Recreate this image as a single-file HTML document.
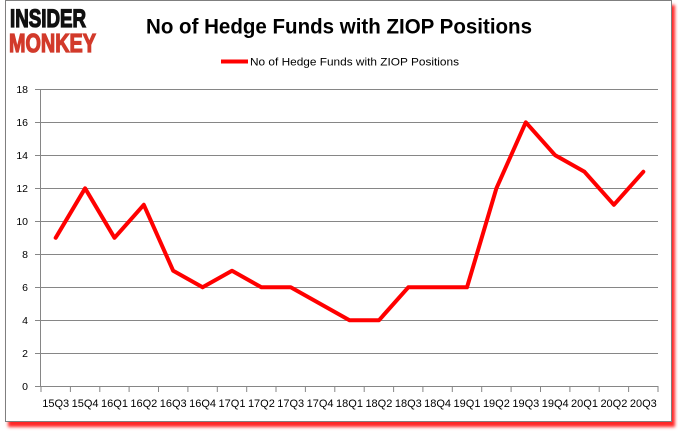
<!DOCTYPE html>
<html><head><meta charset="utf-8"><style>
html,body{margin:0;padding:0;background:#fff;}
body{width:678px;height:431px;position:relative;overflow:hidden;}
.frame{position:absolute;left:5px;top:0px;width:665px;height:420px;border:1px solid #7f7f7f;background:#fff;box-shadow:3px 5px 3px rgba(255,0,0,0.85);}
svg{position:absolute;left:0;top:0;}
</style></head><body>
<div class="frame"></div>
<svg width="678" height="431" viewBox="0 0 678 431" xmlns="http://www.w3.org/2000/svg">
<g font-family="Liberation Sans, sans-serif">
<text x="10" y="27" font-size="25" font-weight="bold" fill="#111" stroke="#111" stroke-width="1.3" textLength="76" lengthAdjust="spacingAndGlyphs">INSIDER</text>
<text x="9" y="52" font-size="26" font-weight="bold" fill="#d23a2b" stroke="#d23a2b" stroke-width="1.3" textLength="87" lengthAdjust="spacingAndGlyphs">MONKEY</text>
<text x="146" y="33.5" font-size="21" font-weight="bold" fill="#000" textLength="386" lengthAdjust="spacingAndGlyphs">No of Hedge Funds with ZIOP Positions</text>
<line x1="221" y1="61.5" x2="248" y2="61.5" stroke="#ff0000" stroke-width="4"/>
<text x="250" y="65.5" font-size="11" fill="#000" textLength="209" lengthAdjust="spacingAndGlyphs">No of Hedge Funds with ZIOP Positions</text>
</g>
<g stroke="#868686" stroke-width="1">
<line x1="35" y1="89.5" x2="658" y2="89.5"/>
<line x1="35" y1="122.5" x2="658" y2="122.5"/>
<line x1="35" y1="155.5" x2="658" y2="155.5"/>
<line x1="35" y1="188.5" x2="658" y2="188.5"/>
<line x1="35" y1="221.5" x2="658" y2="221.5"/>
<line x1="35" y1="254.5" x2="658" y2="254.5"/>
<line x1="35" y1="287.5" x2="658" y2="287.5"/>
<line x1="35" y1="320.5" x2="658" y2="320.5"/>
<line x1="35" y1="353.5" x2="658" y2="353.5"/>
<line x1="35" y1="386.5" x2="658" y2="386.5"/>
<line x1="40.5" y1="89" x2="40.5" y2="387"/>
<line x1="41" y1="386" x2="41" y2="392"/>
<line x1="70.4" y1="386" x2="70.4" y2="392"/>
<line x1="99.8" y1="386" x2="99.8" y2="392"/>
<line x1="129.1" y1="386" x2="129.1" y2="392"/>
<line x1="158.5" y1="386" x2="158.5" y2="392"/>
<line x1="187.9" y1="386" x2="187.9" y2="392"/>
<line x1="217.3" y1="386" x2="217.3" y2="392"/>
<line x1="246.7" y1="386" x2="246.7" y2="392"/>
<line x1="276" y1="386" x2="276" y2="392"/>
<line x1="305.4" y1="386" x2="305.4" y2="392"/>
<line x1="334.8" y1="386" x2="334.8" y2="392"/>
<line x1="364.2" y1="386" x2="364.2" y2="392"/>
<line x1="393.6" y1="386" x2="393.6" y2="392"/>
<line x1="422.9" y1="386" x2="422.9" y2="392"/>
<line x1="452.3" y1="386" x2="452.3" y2="392"/>
<line x1="481.7" y1="386" x2="481.7" y2="392"/>
<line x1="511.1" y1="386" x2="511.1" y2="392"/>
<line x1="540.5" y1="386" x2="540.5" y2="392"/>
<line x1="569.9" y1="386" x2="569.9" y2="392"/>
<line x1="599.2" y1="386" x2="599.2" y2="392"/>
<line x1="628.6" y1="386" x2="628.6" y2="392"/>
<line x1="658" y1="386" x2="658" y2="392"/>
</g>
<g font-family="Liberation Sans, sans-serif" font-size="10.5" fill="#000" text-anchor="end">
<text x="28" y="93">18</text>
<text x="28" y="126">16</text>
<text x="28" y="159">14</text>
<text x="28" y="192">12</text>
<text x="28" y="225">10</text>
<text x="28" y="258">8</text>
<text x="28" y="291">6</text>
<text x="28" y="324">4</text>
<text x="28" y="357">2</text>
<text x="28" y="390">0</text>
</g>
<g font-family="Liberation Sans, sans-serif" font-size="11" fill="#000" text-anchor="middle">
<text x="55.7" y="407">15Q3</text>
<text x="85.1" y="407">15Q4</text>
<text x="114.5" y="407">16Q1</text>
<text x="143.8" y="407">16Q2</text>
<text x="173.2" y="407">16Q3</text>
<text x="202.6" y="407">16Q4</text>
<text x="232" y="407">17Q1</text>
<text x="261.4" y="407">17Q2</text>
<text x="290.7" y="407">17Q3</text>
<text x="320.1" y="407">17Q4</text>
<text x="349.5" y="407">18Q1</text>
<text x="378.9" y="407">18Q2</text>
<text x="408.3" y="407">18Q3</text>
<text x="437.6" y="407">18Q4</text>
<text x="467" y="407">19Q1</text>
<text x="496.4" y="407">19Q2</text>
<text x="525.8" y="407">19Q3</text>
<text x="555.2" y="407">19Q4</text>
<text x="584.5" y="407">20Q1</text>
<text x="613.9" y="407">20Q2</text>
<text x="643.3" y="407">20Q3</text>
</g>
<polyline fill="none" stroke="#ff0000" stroke-width="4" stroke-linejoin="round" stroke-linecap="round"
points="55.7,237.8 85.1,188.3 114.5,237.8 143.8,204.8 173.2,270.8 202.6,287.3 232,270.8 261.4,287.3 290.7,287.3 320.1,303.8 349.5,320.3 378.9,320.3 408.3,287.3 437.6,287.3 467,287.3 496.4,188.3 525.8,122.3 555.2,155.3 584.5,171.8 613.9,204.8 643.3,171.8"/>
</svg>
</body></html>
